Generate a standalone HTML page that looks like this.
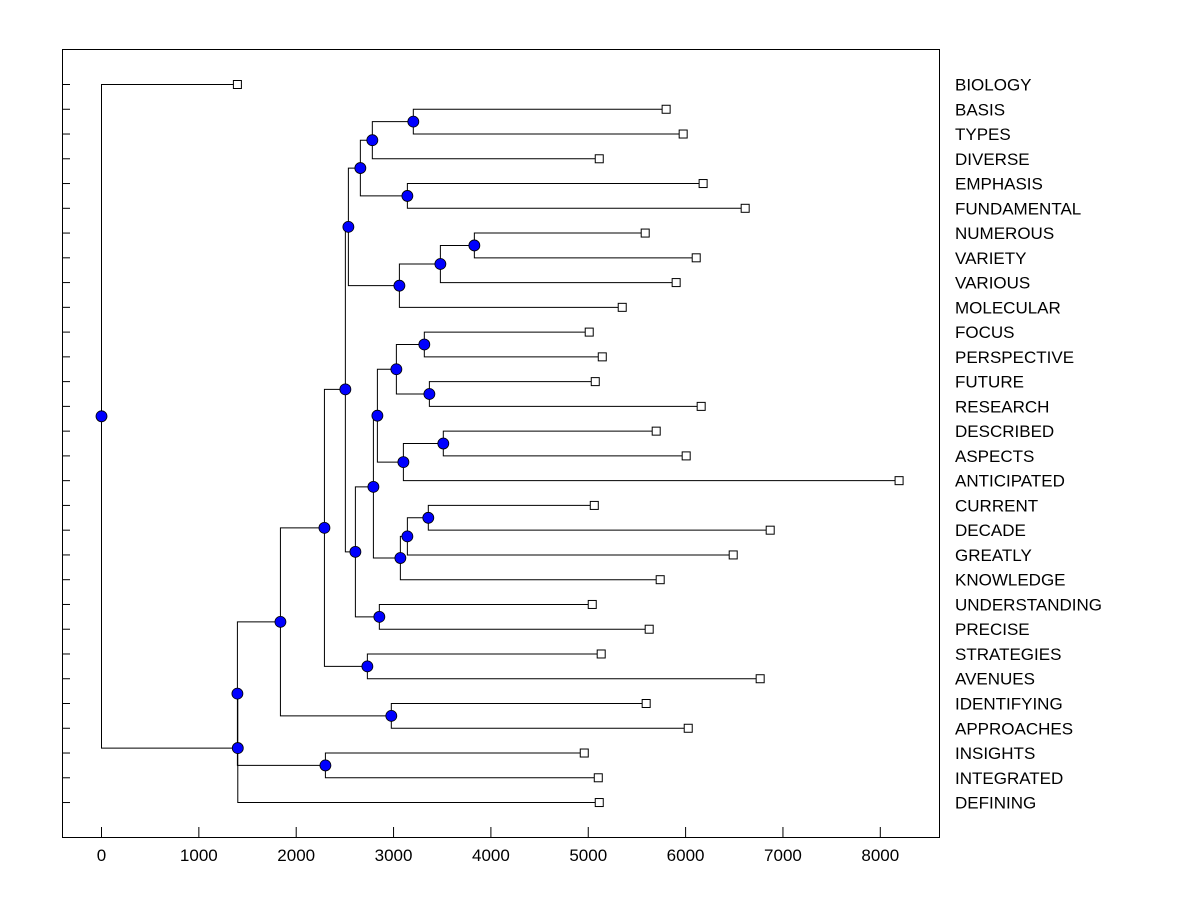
<!DOCTYPE html>
<html><head><meta charset="utf-8"><style>
html,body{margin:0;padding:0;background:#fff;}
svg{display:block;font-family:"Liberation Sans",Arial,sans-serif;}
</style></head><body>
<svg id="chart" width="1200" height="900" viewBox="0 0 1200 900" xmlns="http://www.w3.org/2000/svg">
<rect x="62.5" y="49.5" width="877" height="788" fill="none" stroke="#000" stroke-width="1"/>
<g id="ticks"></g><g id="links"></g><g id="marks"></g><g id="labels"></g>
</svg>
<script>
const leafNames=["BIOLOGY","BASIS","TYPES","DIVERSE","EMPHASIS","FUNDAMENTAL","NUMEROUS","VARIETY","VARIOUS","MOLECULAR","FOCUS","PERSPECTIVE","FUTURE","RESEARCH","DESCRIBED","ASPECTS","ANTICIPATED","CURRENT","DECADE","GREATLY","KNOWLEDGE","UNDERSTANDING","PRECISE","STRATEGIES","AVENUES","IDENTIFYING","APPROACHES","INSIGHTS","INTEGRATED","DEFINING"];
const leafValues=[1396,5800,5975,5113,6180,6612,5585,6109,5903,5349,5010,5144,5072,6160,5698,6006,8193,5062,6869,6489,5739,5041,5626,5133,6766,5595,6027,4959,5103,5113];
const mergeLeft=[1,30,4,31,6,34,35,33,10,12,38,14,41,40,17,44,45,43,21,47,37,23,50,25,52,27,54,56,0];
const mergeRight=[2,3,5,32,7,8,9,36,11,13,39,15,16,42,18,19,20,46,22,48,49,24,51,26,53,28,55,29,57];
const mergeHeights=[3203,2782,3142,2659,3830,3481,3060,2536,3316,3368,3029,3511,3101,2834,3357,3142,3070,2793,2854,2608,2505,2731,2290,2977,1838,2300,1396,1400,0];
const xTicks=[0,1000,2000,3000,4000,5000,6000,7000,8000];

const NS="http://www.w3.org/2000/svg";
const X=v=>101.5+v*0.09735;
const ROW0=84.5, STEP=24.76;
const Y=i=>ROW0+i*STEP;
function mk(tag,attrs,parent){const e=document.createElementNS(NS,tag);for(const k in attrs)e.setAttribute(k,attrs[k]);document.getElementById(parent).appendChild(e);return e;}

const nx=[],ny=[];
leafValues.forEach((v,i)=>{nx.push(X(v));ny.push(Y(i));});
mergeHeights.forEach((h,j)=>{const a=mergeLeft[j],b=mergeRight[j];nx.push(X(h));ny.push((ny[a]+ny[b])/2);});

leafNames.forEach((n,i)=>{
  const t=mk('line',{x1:62,x2:70,y1:Y(i),y2:Y(i),stroke:'#000'},'ticks');
  
  
  const l=mk('text',{x:955,y:Y(i)+6,'font-size':17,'textLength':0,fill:'#000'},'labels');
  l.removeAttribute('textLength');
  l.textContent=n;
  
  
});
xTicks.forEach(v=>{
  const t=mk('line',{x1:X(v),x2:X(v),y1:827,y2:837,stroke:'#000'},'ticks');
  
  
  const l=mk('text',{x:X(v),y:861,'font-size':17,'text-anchor':'middle',fill:'#000'},'labels');
  l.textContent=v;
  
  
});

mergeHeights.forEach((h,j)=>{
  const a=mergeLeft[j],b=mergeRight[j],x=X(h);
  const p=mk('path',{d:`M${nx[a]},${ny[a]}H${x}V${ny[b]}H${nx[b]}`,fill:'none',stroke:'#000','stroke-width':1},'links');
  
  
});
leafValues.forEach((v,i)=>{
  const r=mk('rect',{x:X(v)-4,y:Y(i)-4,width:8,height:8,fill:'#fff',stroke:'#000'},'marks');
  
  
});
mergeHeights.forEach((h,j)=>{
  const c=mk('circle',{cx:X(h),cy:ny[30+j],r:5.5,fill:'#0000ff',stroke:'#000','stroke-width':0.8},'marks');
  
  
});
</script>
</body></html>
